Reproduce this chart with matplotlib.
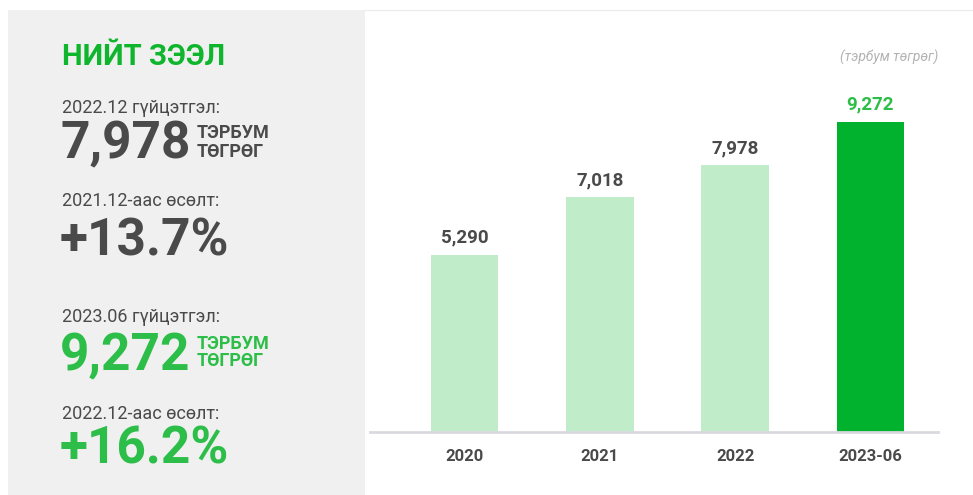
import matplotlib.pyplot as plt
from matplotlib.patches import Rectangle

# data (тэрбум төгрөг)
categories = ["2020", "2021", "2022", "2023-06"]
values = [5290, 7018, 7978, 9272]
value_labels = ["5,290", "7,018", "7,978", "9,272"]

W, H = 973, 495
LIGHT = "#c1ecca"
DARK = "#00b22d"
GREEN_TXT = "#2cbe48"
GRAY_TXT = "#4a4a4a"
FONT = ["Roboto", "DejaVu Sans"]

plt.rcParams["font.family"] = FONT

fig = plt.figure(figsize=(W / 100, H / 100), dpi=100)
fig.patch.set_facecolor("white")


def fx(x):
    return x / W


def fy(y):
    return 1 - y / H


# left grey panel + faint top rule
fig.patches.append(Rectangle((fx(8), 0), fx(365) - fx(8), fy(10), transform=fig.transFigure,
                             facecolor="#f0f0f0", edgecolor="none", zorder=0))
fig.add_artist(plt.Line2D([fx(365), fx(973)], [fy(10), fy(10)], transform=fig.transFigure,
                          color="#ececec", lw=1))

# chart axes
ax = fig.add_axes([fx(370), fy(432), fx(938) - fx(370), fy(60) - fy(432)])
ax.set_facecolor("none")
x = list(range(len(categories)))
colors = [LIGHT] * (len(values) - 1) + [DARK]
bars = ax.bar(x, values, width=0.5, color=colors, zorder=2)
ax.set_xlim(-0.70, 3.5)
ax.set_ylim(0, 11128)
for i, (b, lab) in enumerate(zip(bars, value_labels)):
    c = GREEN_TXT if i == len(values) - 1 else GRAY_TXT
    ax.annotate(lab, (b.get_x() + b.get_width() / 2, b.get_height()), xytext=(0, 6),
                textcoords="offset points", ha="center", va="bottom",
                fontsize=13.5, fontweight="bold", color=c)
ax.set_xticks(x)
ax.set_xticklabels(categories, fontsize=12, fontweight="bold", color=GRAY_TXT)
ax.tick_params(axis="x", length=0, pad=12)
ax.set_yticks([])
for s in ["top", "right", "left"]:
    ax.spines[s].set_visible(False)
ax.spines["bottom"].set_color("#d9d9df")
ax.spines["bottom"].set_linewidth(2)

fig.text(fx(938), fy(62), "(тэрбум төгрөг)", ha="right", va="baseline", fontsize=10,
         style="italic", color="#b3b3b3")

# left panel text
def t(x, y, s, size, color, bold=False):
    fig.text(fx(x), fy(y), s, ha="left", va="baseline", fontsize=size, color=color,
             fontweight="bold" if bold else "normal")


t(62, 65, "НИЙТ ЗЭЭЛ", 21, "#0fb52c", True)
t(62, 113, "2022.12 гүйцэтгэл:", 13, GRAY_TXT)
t(60, 158, "7,978", 37, GRAY_TXT, True)
t(197, 138, "ТЭРБУМ", 13, GRAY_TXT, True)
t(197, 157, "ТӨГРӨГ", 13, GRAY_TXT, True)
t(62, 206, "2021.12-аас өсөлт:", 13, GRAY_TXT)
t(60, 255, "+13.7%", 37, GRAY_TXT, True)

t(62, 322, "2023.06 гүйцэтгэл:", 13, GRAY_TXT)
t(60, 370, "9,272", 37, GREEN_TXT, True)
t(197, 349, "ТЭРБУМ", 13, GREEN_TXT, True)
t(197, 366, "ТӨГРӨГ", 13, GREEN_TXT, True)
t(62, 419, "2022.12-аас өсөлт:", 13, GRAY_TXT)
t(60, 463, "+16.2%", 37, GREEN_TXT, True)

fig.savefig("out.png", dpi=100)
